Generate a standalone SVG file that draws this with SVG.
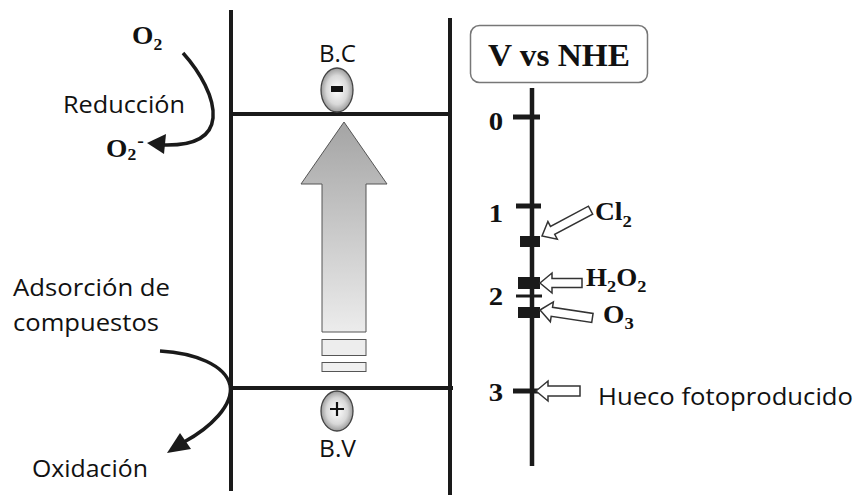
<svg xmlns="http://www.w3.org/2000/svg" width="859" height="497" viewBox="0 0 859 497">
<defs>
<radialGradient id="gEll" cx="0.5" cy="0.5" r="0.55">
<stop offset="0" stop-color="#ffffff"/>
<stop offset="0.6" stop-color="#d8d8d8"/>
<stop offset="1" stop-color="#8a8a8a"/>
</radialGradient>
<linearGradient id="gArr" x1="0" y1="0" x2="0" y2="1">
<stop offset="0" stop-color="#a4a4a4"/>
<stop offset="1" stop-color="#ececec"/>
</linearGradient>
<style>
.ln{stroke:#1a1a1a;stroke-width:4;fill:none;stroke-linecap:butt}
.ax{stroke:#1a1a1a;stroke-width:4.5;fill:none}
.tk{stroke:#1a1a1a;stroke-width:5;fill:none}
.sq{fill:#1a1a1a}
.ha{fill:#ffffff;stroke:#333;stroke-width:1.5;stroke-linejoin:miter}
.sans{font-family:"Open Sans","Liberation Sans",sans-serif;font-size:23px;fill:#111}
.ser{font-family:"Liberation Serif","Times New Roman",serif;font-weight:bold;fill:#111}
.ell{fill:url(#gEll);stroke:#444;stroke-width:1.3}
.cv{stroke:#1a1a1a;stroke-width:3.5;fill:none}
</style>
</defs>
<rect width="859" height="497" fill="#ffffff"/>

<g id="bands">
<line class="ln" x1="231" y1="10" x2="231" y2="491"/>
<line class="ln" x1="450" y1="18" x2="450" y2="495"/>
<line class="ln" x1="229" y1="114" x2="452" y2="114"/>
<line class="ln" x1="229" y1="388" x2="453" y2="388"/>
</g>

<g id="bc">
<text class="sans" x="337.5" y="62" text-anchor="middle" textLength="37" lengthAdjust="spacingAndGlyphs">B.C</text>
<ellipse class="ell" cx="337" cy="90" rx="16" ry="22"/>
<rect x="331" y="86" width="12" height="6" fill="#111"/>
</g>

<g id="bv">
<ellipse class="ell" cx="337" cy="411" rx="16" ry="20"/>
<path d="M330,409 H344 M337,402 V416" stroke="#111" stroke-width="2.2" fill="none"/>
<text class="sans" x="337.5" y="457" text-anchor="middle" textLength="37" lengthAdjust="spacingAndGlyphs">B.V</text>
</g>

<g id="big-arrow">
<path d="M344,122 L387,184 L366,184 L366,332 L322,332 L322,184 L301,184 Z" fill="url(#gArr)" stroke="#555" stroke-width="1"/>
<rect x="322" y="339.5" width="44" height="16" fill="#ededed" stroke="#555" stroke-width="1"/>
<rect x="322" y="362.5" width="44" height="9" fill="#f0f0f0" stroke="#555" stroke-width="1"/>
</g>

<g id="reduccion">
<text class="ser" transform="translate(132,44) scale(1.1,1)" font-size="25">O<tspan font-size="16" dy="6">2</tspan></text>
<text class="sans" x="63" y="113" textLength="122" lengthAdjust="spacingAndGlyphs">Reducción</text>
<text class="ser" transform="translate(106,157) scale(1.1,1)" font-size="25">O<tspan font-size="16" dy="3">2</tspan><tspan font-size="18" dx="1" dy="-13">-</tspan></text>
</g>

<g id="oxidacion">
<text class="sans" x="13" y="296" textLength="157" lengthAdjust="spacingAndGlyphs">Adsorción de</text>
<text class="sans" x="13" y="331" textLength="146" lengthAdjust="spacingAndGlyphs">compuestos</text>
<text class="sans" x="32" y="477" textLength="116" lengthAdjust="spacingAndGlyphs">Oxidación</text>
</g>

<g id="scale">
<rect x="470.5" y="25.5" width="177" height="57" rx="9" ry="9" fill="#ffffff" stroke="#777" stroke-width="1.5"/>
<text class="ser" x="488" y="66" font-size="31" textLength="142" lengthAdjust="spacingAndGlyphs">V vs NHE</text>
<line class="ax" x1="532" y1="88" x2="532" y2="466"/>
<line class="tk" x1="513" y1="117" x2="540" y2="117"/>
<line class="tk" x1="516" y1="206" x2="541" y2="206"/>
<line x1="516" y1="296" x2="542" y2="296" stroke="#1a1a1a" stroke-width="3"/>
<line class="tk" x1="513" y1="391" x2="538" y2="391"/>
<text class="ser" transform="translate(496,130) scale(1.15,1)" font-size="25" text-anchor="middle">0</text>
<text class="ser" transform="translate(496,221.5) scale(1.15,1)" font-size="25" text-anchor="middle">1</text>
<text class="ser" transform="translate(496,305) scale(1.15,1)" font-size="25" text-anchor="middle">2</text>
<text class="ser" transform="translate(496,400.5) scale(1.15,1)" font-size="25" text-anchor="middle">3</text>
<rect class="sq" x="520" y="236" width="20" height="11"/>
<rect class="sq" x="518" y="277" width="22" height="12"/>
<rect class="sq" x="518" y="307" width="22" height="11"/>
</g>

<g id="cl2">
<path class="ha" transform="translate(542,236) rotate(-28)" d="M0,0 L12,-10 L12,-4.5 L55,-4.5 L55,4.5 L12,4.5 L12,10 Z"/>
<text class="ser" transform="translate(595,220) scale(1.1,1)" font-size="25">Cl<tspan font-size="17" dy="7">2</tspan></text>
</g>

<g id="h2o2">
<path class="ha" transform="translate(540,283)" d="M0,0 L12,-10 L12,-4.5 L42,-4.5 L42,4.5 L12,4.5 L12,10 Z"/>
<text class="ser" transform="translate(586,286) scale(1.08,1)" font-size="25">H<tspan font-size="17" dy="6">2</tspan><tspan dy="-6">O</tspan><tspan font-size="17" dy="6">2</tspan></text>
</g>

<g id="o3">
<path class="ha" transform="translate(540,310) rotate(8.6)" d="M0,0 L12,-10 L12,-4.5 L53,-4.5 L53,4.5 L12,4.5 L12,10 Z"/>
<text class="ser" transform="translate(603,323) scale(1.1,1)" font-size="25">O<tspan font-size="17" dy="6">3</tspan></text>
</g>

<g id="hueco">
<path class="ha" transform="translate(536,391)" d="M0,0 L12,-10 L12,-5 L44,-5 L44,5 L12,5 L12,10 Z"/>
<text class="sans" x="598" y="405" style="font-size:24px" textLength="255" lengthAdjust="spacingAndGlyphs">Hueco fotoproducido</text>
</g>

<g id="connectors">
<path class="cv" d="M183,53 C200,72 215,98 213,118 C211,138 192,146 162,145"/>
<path d="M147,143 L166,134 L164,154 Z" fill="#1a1a1a"/>
<path class="cv" d="M160,351 C195,353 225,365 230,385 C234,405 210,428 184,442"/>
<path d="M167,453 L180,433 L191,449 Z" fill="#1a1a1a"/>
</g>
</svg>
